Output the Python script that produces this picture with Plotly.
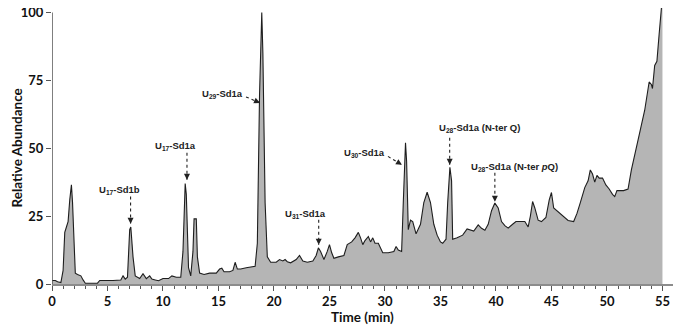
import plotly.graph_objects as go

# retention time (min) and relative abundance
time_min = [0, 0.3, 0.5, 0.8, 1.0, 1.15, 1.3, 1.45, 1.6, 1.75, 1.85, 2.0, 2.1, 2.3, 2.6, 2.8, 3.0,
            4.1, 4.3, 5.5, 6.2, 6.4, 6.6, 6.8, 7.0, 7.1, 7.3, 7.5, 7.9, 8.2, 8.5, 8.8, 9.0, 9.3,
            9.6, 10.0, 10.5, 10.8, 11.2, 11.6, 11.8, 12.0, 12.1, 12.3, 12.5, 12.7, 12.8, 13.0,
            13.1, 13.3, 13.7, 14.2, 14.8, 15.1, 15.3, 15.5, 16.0, 16.3, 16.5, 16.7, 17.0, 17.5,
            18.0, 18.3, 18.5, 18.7, 18.9, 19.0, 19.2, 19.4, 19.7, 20.2, 20.5, 20.8, 21.0, 21.2,
            21.5, 22.0, 22.3, 22.6, 23.0, 23.5, 23.8, 24.0, 24.2, 24.5, 24.8, 25.0, 25.2, 25.4,
            25.8, 26.3, 26.6, 27.0, 27.3, 27.6, 27.8, 28.0, 28.2, 28.5, 28.7, 28.9, 29.1, 29.4,
            29.8, 30.3, 30.8, 31.0, 31.2, 31.5, 31.65, 31.85, 31.95, 32.1, 32.3, 32.5, 32.8,
            33.2, 33.5, 33.8, 34.1, 34.4, 34.7, 35.0, 35.2, 35.5, 35.65, 35.85, 36.0, 36.1,
            36.5, 37.0, 37.4, 37.7, 38.0, 38.4, 38.7, 39.0, 39.3, 39.6, 39.9, 40.2, 40.5, 40.8,
            41.1, 41.5, 41.8, 42.6, 42.9, 43.1, 43.3, 43.5, 43.8, 44.1, 44.5, 44.8, 45.0, 45.2,
            45.5, 45.8, 46.2, 46.5, 47.0, 47.3, 47.6, 48.0, 48.3, 48.5, 48.7, 48.9, 49.1, 49.3,
            49.6, 49.9, 50.2, 50.5, 50.7, 50.9, 51.5, 51.9, 52.2, 52.6, 53.0, 53.4, 53.8, 54.0,
            54.1, 54.3, 54.5, 54.7, 54.9, 55.0]
abundance = [1.3, 1.3, 0.8, 0.5, 5, 19, 21, 23, 31, 36.5, 30, 12, 4, 3.5, 3, 1.5, 0.3,
             0.3, 1.3, 1.3, 1.5, 3, 1.8, 2.5, 20, 21, 10, 3, 2, 3.8, 2, 3, 1.8, 1.5,
             1.2, 2, 2, 3, 2.5, 2.5, 12, 37, 33, 6, 3, 12, 24, 24,
             10, 4, 3.5, 4, 4, 5.5, 5.8, 4.5, 4.5, 5, 8, 5.5, 5.5, 6,
             6.3, 6.5, 15, 70, 100, 85, 30, 10, 8, 8, 9, 8.5, 9, 8.2,
             7.8, 9, 10.5, 8.5, 8, 8.5, 10.5, 13.3, 12, 9, 12, 14.5, 11.5, 9.5,
             10, 10.5, 14.5, 15.5, 17, 19, 17, 14.5, 16, 17.5, 15.5, 17, 15, 15,
             11.5, 11.5, 12, 13.8, 12.5, 12, 30, 52, 45, 20, 23.5, 23, 18.5,
             22, 30, 33.8, 30, 22, 18, 15.5, 15, 16.5, 30, 43, 38, 16.5,
             17, 18, 20.3, 19.8, 19.5, 21.8, 20.5, 19.8, 22, 27, 29.8, 28, 23, 21.5,
             20.6, 22, 23, 23, 21, 25, 30.4, 28, 23.5, 23, 24.5, 31, 33.7, 28,
             27, 26, 24.5, 23.4, 23, 26, 30, 35.5, 38, 42, 40.5, 37.5, 40, 39,
             39, 36.5, 35, 33, 32.2, 34.4, 34.4, 35, 42, 50, 56.7, 64, 74.4, 73.5,
             72, 80.5, 82, 92, 104, 106]

y_ticks = [0, 25, 50, 75, 100]
x_ticks = [0, 5, 10, 15, 20, 25, 30, 35, 40, 45, 50, 55]

# peak labels: text, label position, dotted arrow start and end
peak_labels = ["U<sub>17</sub>-Sd1b", "U<sub>17</sub>-Sd1a", "U<sub>29</sub>-Sd1a",
               "U<sub>31</sub>-Sd1a", "U<sub>30</sub>-Sd1a",
               "U<sub>28</sub>-Sd1a (N-ter Q)", "U<sub>28</sub>-Sd1a (N-ter <i>p</i>Q)"]
label_x = [6.05, 11.13, 15.4, 22.84, 28.15, 38.5, 41.7]
label_y = [34.7, 50.9, 70.0, 25.9, 48.3, 57.5, 43.2]
arrow_x0 = [7.08, 12.16, 17.48, 24.03, 30.27, 35.83, 39.9]
arrow_y0 = [32.2, 48.3, 68.9, 23.7, 47.0, 53.9, 41.0]
arrow_x1 = [7.08, 12.16, 18.74, 24.03, 31.53, 35.83, 39.9]
arrow_y1 = [22.2, 38.4, 66.7, 14.5, 43.9, 43.9, 30.3]
head_ax = [0, 0, -4.6, 0, -4.3, 0, 0]
head_ay = [-5, -5, -2.0, -5, -2.6, -5, -5]

fig = go.Figure()
fig.add_trace(go.Scatter(x=time_min, y=abundance, mode="lines", fill="tozeroy",
                         fillcolor="#b5b5b5", line=dict(color="#1e1e1e", width=1.1),
                         showlegend=False, hoverinfo="skip"))

shapes = [dict(type="line", xref="x", yref="y", x0=0, x1=0, y0=0, y1=100,
               line=dict(color="#555555", width=1.5))]
annotations = []
for i in range(len(peak_labels)):
    annotations.append(dict(x=label_x[i], y=label_y[i], text=peak_labels[i], showarrow=False,
                            font=dict(family="Liberation Sans", size=9.5, color="#222222",
                                      weight="bold")))
    shapes.append(dict(type="line", xref="x", yref="y", x0=arrow_x0[i], y0=arrow_y0[i],
                       x1=arrow_x1[i], y1=arrow_y1[i],
                       line=dict(color="#222222", width=1.1, dash="dot")))
    annotations.append(dict(x=arrow_x1[i], y=arrow_y1[i], text="", showarrow=True,
                            arrowhead=2, arrowsize=1, arrowwidth=1.2, arrowcolor="#222222",
                            ax=head_ax[i], ay=head_ay[i]))

annotations.append(dict(xref="paper", yref="paper", x=-0.056, y=0.492, text="Relative Abundance",
                        textangle=-90, showarrow=False, xanchor="center", yanchor="middle",
                        font=dict(family="Lato", size=13.5, color="#111111", weight="bold")))
annotations.append(dict(xref="paper", yref="paper", x=0.5, y=-0.118, text="Time (min)",
                        showarrow=False, xanchor="center", yanchor="middle",
                        font=dict(family="Lato", size=13.5, color="#111111", weight="bold")))

# page body adds 8px offset, so margins are shifted to land the axes where the original has them
fig.update_layout(
    width=683, height=329,
    margin=dict(l=44, r=18, t=0, b=52.5),
    plot_bgcolor="white", paper_bgcolor="white",
    shapes=shapes, annotations=annotations,
)
fig.update_xaxes(range=[0, 55.95], tickvals=x_ticks, showline=True, linecolor="#8c8c8c",
                 linewidth=1.5, ticks="outside", ticklen=5, tickcolor="#555555", tickwidth=1,
                 minor=dict(dtick=1, ticks="outside", ticklen=3, tickcolor="#555555"),
                 showgrid=False, zeroline=False, automargin=False, ticklabeloverflow="allow",
                 tickfont=dict(family="Lato", size=13, color="#111111", weight="bold"))
fig.update_yaxes(range=[0, 101.65], tickvals=y_ticks, showline=False, ticks="outside",
                 ticklen=5, tickcolor="#555555", tickwidth=1, showgrid=False, zeroline=False,
                 automargin=False, ticklabeloverflow="allow",
                 tickfont=dict(family="Lato", size=13, color="#111111", weight="bold"))

fig.write_html("out.html")
